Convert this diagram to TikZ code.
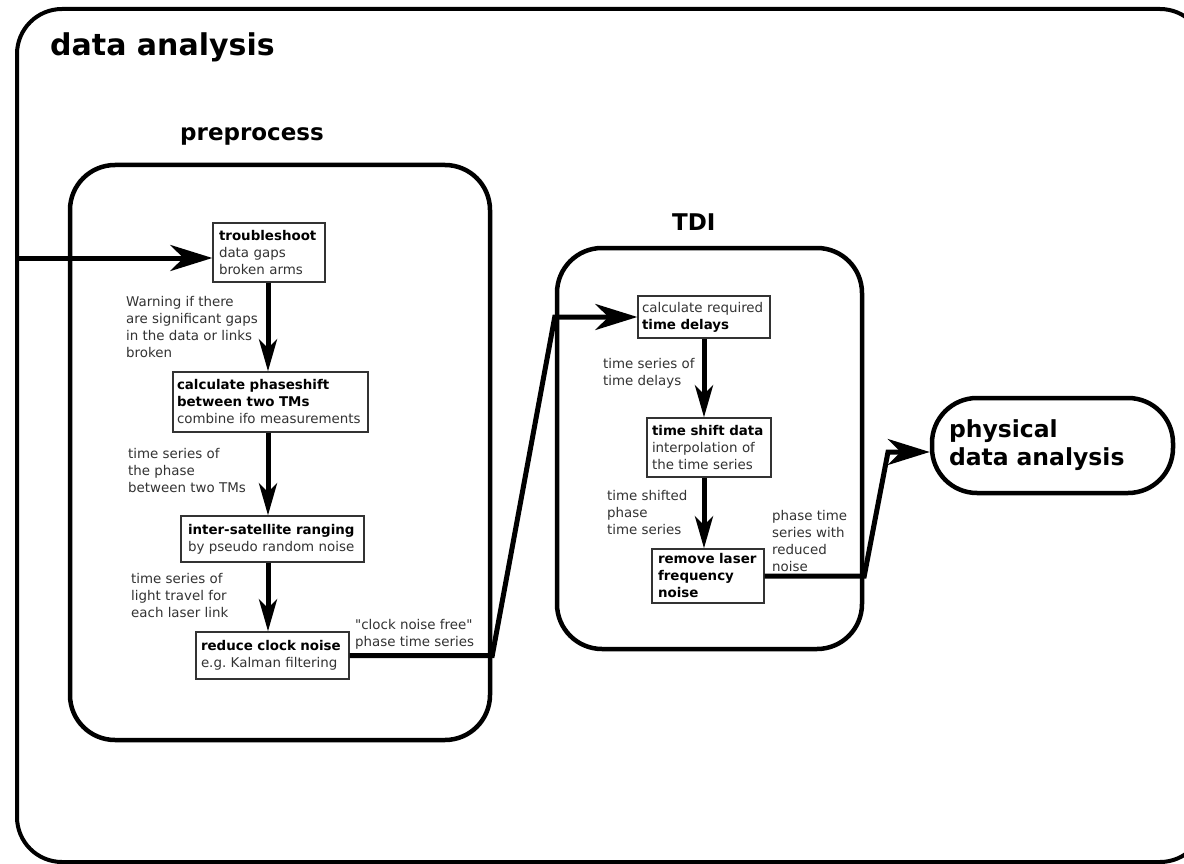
\documentclass[tikz,border=0pt]{standalone}
\usepackage{fontspec}
\setmainfont{DejaVu Sans}
\newfontfamily\plainq{DejaVu Sans}
\usetikzlibrary{arrows.meta}
\definecolor{txt}{HTML}{333333}
\newcommand{\hd}[1]{{\color{black}\bfseries #1}}
\newcommand{\sq}{{\plainq"}}
\begin{document}
\begin{tikzpicture}[x=1pt,y=-1pt,
  frame/.style={draw, line width=4.5pt, rounded corners=45pt, inner sep=0pt},
  sbox/.style={draw=black!80, line width=1.3pt, align=left, inner ysep=0pt,
    font=\fontsize{13.4}{17}\selectfont, text=txt},
  lbl/.style={align=left, inner sep=0pt, anchor=north west,
    font=\fontsize{13.4}{17}\selectfont, text=txt},
  conn/.style={line width=5pt, line join=miter},
  harr/.style={conn, -{Stealth[length=42pt,width=26pt,inset=13pt]}},
  varr/.style={conn, -{Stealth[length=32pt,width=18pt,inset=9pt]}},
  ttl/.style={inner sep=0pt, anchor=base west}
]
\useasboundingbox (0,0) rectangle (1184,864);
\fill[white] (0,0) rectangle (1184,864);
\begin{scope}
\clip (0,0) rectangle (1184,864);
% frames
\node[frame, line width=4pt, minimum width=1188pt, minimum height=853pt] (outer) at (611,435.5) {};
\end{scope}
\node[frame, minimum width=420pt, minimum height=575pt] (pre) at (280,452.5) {};
\node[frame, minimum width=305pt, minimum height=401pt] (tdi) at (709.5,448.5) {};
\node[frame, minimum width=241pt, minimum height=95pt, align=left, anchor=center,
  font=\bfseries\fontsize{23.5}{28}\selectfont, text width=207pt, inner xsep=17pt] (phys) at (1052.5,445.5)
  {physical\\data analysis};

% titles
\node[ttl, font=\bfseries\fontsize{30}{36}\selectfont] (tda) at (50,56) {data analysis};
\node[ttl, font=\bfseries\fontsize{23}{28}\selectfont] (tpre) at (180,141) {preprocess};
\node[ttl, font=\bfseries\fontsize{23}{28}\selectfont] (ttdi) at (672,230) {TDI};

% preprocess boxes
\node[sbox, text width=100pt, inner xsep=6pt, minimum height=59pt] (tb) at (269,252.5)
  {\hd{troubleshoot}\\data~gaps\\broken~arms};
\node[sbox, text width=187pt, inner xsep=4pt, minimum height=60pt] (cp) at (270.5,402)
  {\hd{calculate~phaseshift}\\\hd{between~two~TMs}\\combine~ifo~measurements};
\node[sbox, text width=169pt, inner xsep=7pt, minimum height=46pt] (isr) at (272.5,539)
  {\hd{inter-satellite~ranging}\\by~pseudo~random~noise};
\node[sbox, text width=143pt, inner xsep=5pt, minimum height=47pt] (rc) at (272.5,655.5)
  {\hd{reduce~clock~noise}\\e.g.~Kalman~filtering};

% TDI boxes
\node[sbox, text width=124pt, inner xsep=4pt, minimum height=42pt] (ctd) at (704,317)
  {calculate~required\\\hd{time~delays}};
\node[sbox, text width=114pt, inner xsep=5pt, minimum height=59pt] (tsd) at (709,447.5)
  {\hd{time~shift~data}\\interpolation~of\\the~time~series};
\node[sbox, text width=100pt, inner xsep=6pt, minimum height=54pt] (rl) at (708,576)
  {\hd{remove~laser}\\\hd{frequency}\\\hd{noise}};

% labels
\node[lbl] (l1) at (126,296) {Warning if there\\are significant gaps\\in the data or links\\broken};
\node[lbl] (l2) at (128,448) {time series of\\the phase\\between two TMs};
\node[lbl] (l3) at (131,573) {time series of\\light travel for\\each laser link};
\node[lbl] (l4) at (355,619) {\sq clock noise free\sq\\phase time series};
\node[lbl] (l5) at (603,358) {time series of\\time delays};
\node[lbl] (l6) at (607,490) {time shifted\\phase\\time series};
\node[lbl] (l7) at (772,510) {phase time\\series with\\reduced\\noise};

% connectors
\coordinate (inl) at (17,258);
\draw[harr] (inl) -- (inl -| tb.west);
\draw[varr] (268,0 |- tb.south) -- (268,0 |- cp.north);
\draw[varr] (268,0 |- cp.south) -- (268,0 |- isr.north);
\draw[varr] (268,0 |- isr.south) -- (268,0 |- rc.north);
\draw[harr] (rc.east) -- (rc.east -| pre.east) -- (tdi.west |- ctd.west) -- (ctd.west);
\draw[varr] (704,0 |- ctd.south) -- (704,0 |- tsd.north);
\draw[varr] (704,0 |- tsd.south) -- (704,0 |- rl.north);
\coordinate (kk) at (888,452);
\draw[harr] (rl.east) -- (rl.east -| tdi.east) -- (kk) -- (kk -| phys.west);
\end{tikzpicture}
\end{document}
